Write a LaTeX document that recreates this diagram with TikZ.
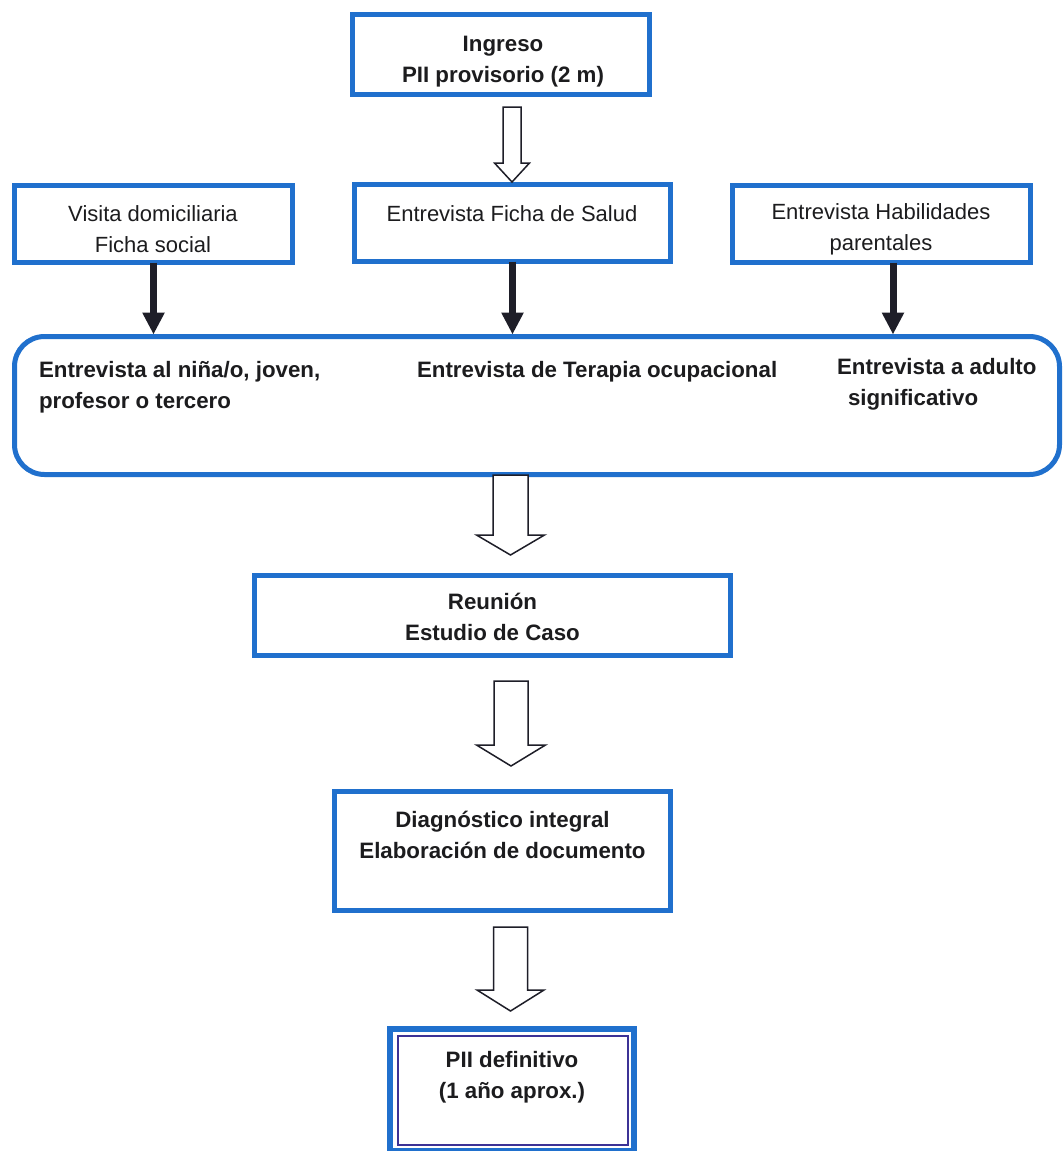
\documentclass[tikz,border=0pt]{standalone}
\usepackage{fontspec}
\setmainfont{Liberation Sans}
\usetikzlibrary{arrows.meta,calc}
\definecolor{boxblue}{RGB}{32,112,205}
\definecolor{innerblue}{RGB}{60,50,150}
\definecolor{ink}{RGB}{28,28,30}
\definecolor{arrowink}{RGB}{30,30,40}
\newcommand{\hollowarr}[6]{%
  \draw[hollow] (#1-#5,#2) -- (#1+#5,#2) -- (#1+#5,#3) -- (#1+#6,#3) -- (#1,#4) -- (#1-#6,#3) -- (#1-#5,#3) -- cycle;}
\tikzset{
  boxnode/.style={draw=boxblue, line width=5pt, fill=white, inner sep=0pt, outer sep=0pt, rectangle},
  txt/.style={font=\fontsize{22pt}{31pt}\selectfont, text=ink, inner sep=0pt, outer sep=0pt, align=center, anchor=base},
  btxt/.style={txt, font=\fontsize{22.3pt}{31pt}\selectfont\bfseries},
  hollow/.style={draw=arrowink, line width=1.5pt, fill=white, line join=miter},
  blk/.style={draw=arrowink, line width=7pt, -{Triangle[width=21pt,length=22pt]}, shorten >=2pt}
}
\begin{document}
\begin{tikzpicture}[x=1pt,y=-1pt]
\useasboundingbox[fill=white] (0,0) rectangle (1064,1151);

% boxes
\node[boxnode, minimum width=297pt, minimum height=80pt] (top) at (501,54.5) {};
\node[boxnode, minimum width=278pt, minimum height=77pt] (L) at (153.5,224) {};
\node[boxnode, minimum width=316pt, minimum height=77pt] (M) at (512.5,223) {};
\node[boxnode, minimum width=298pt, minimum height=77pt] (R) at (881.5,224) {};
\node[boxnode, rounded corners=30pt, minimum width=1045pt, minimum height=138pt] (big) at (537,405.5) {};
\node[boxnode, minimum width=476pt, minimum height=80pt] (reu) at (492.5,615.5) {};
\node[boxnode, minimum width=336pt, minimum height=119pt] (diag) at (502.5,851) {};
\node[boxnode, line width=6pt, minimum width=244pt, minimum height=122pt] (fin) at (512,1090) {};
\node[draw=innerblue, line width=1.6pt, inner sep=0pt, outer sep=0pt, minimum width=230pt, minimum height=109pt] (fininner) at (513,1090.5) {};

% texts (anchor base = baseline of the last line)
\node[btxt] (ttop) at (503,82) {Ingreso\\PII provisorio (2 m)};
\node[txt] (tL) at (153,252) {Visita domiciliaria\\Ficha social};
\node[txt] (tM) at (512,221) {Entrevista Ficha de Salud};
\node[txt] (tR) at (881,250) {Entrevista Habilidades\\parentales};
\node[btxt, align=left, anchor=base west] (tB1) at (39,408) {Entrevista al niña/o, joven,\\profesor o tercero};
\node[btxt, anchor=base west] (tB2) at (417,377) {Entrevista de Terapia ocupacional};
\node[btxt, align=left, anchor=base west] (tB3) at (837,405) {Entrevista a adulto\\\hspace*{11pt}significativo};
\node[btxt] (treu) at (492.5,640) {Reunión\\Estudio de Caso};
\node[btxt] (tdiag) at (502.5,858) {Diagnóstico integral\\Elaboración de documento};
\node[btxt] (tfin) at (512,1098) {PII definitivo\\(1 año aprox.)};

% black arrows
\draw[blk] (L.south) -- (L.south |- big.north);
\draw[blk] (M.south) -- (M.south |- big.north);
\draw[blk] ([xshift=11.5pt]R.south) -- ([xshift=11.5pt]R.south |- big.north);

% hollow arrows
\hollowarr{512}{107}{163}{182}{9}{17.5}
\hollowarr{510.5}{475}{535}{555}{17.5}{34}
\hollowarr{511}{681}{745}{766}{17}{34.5}
\hollowarr{510.5}{927}{990}{1011}{17}{33.5}
\end{tikzpicture}
\end{document}
